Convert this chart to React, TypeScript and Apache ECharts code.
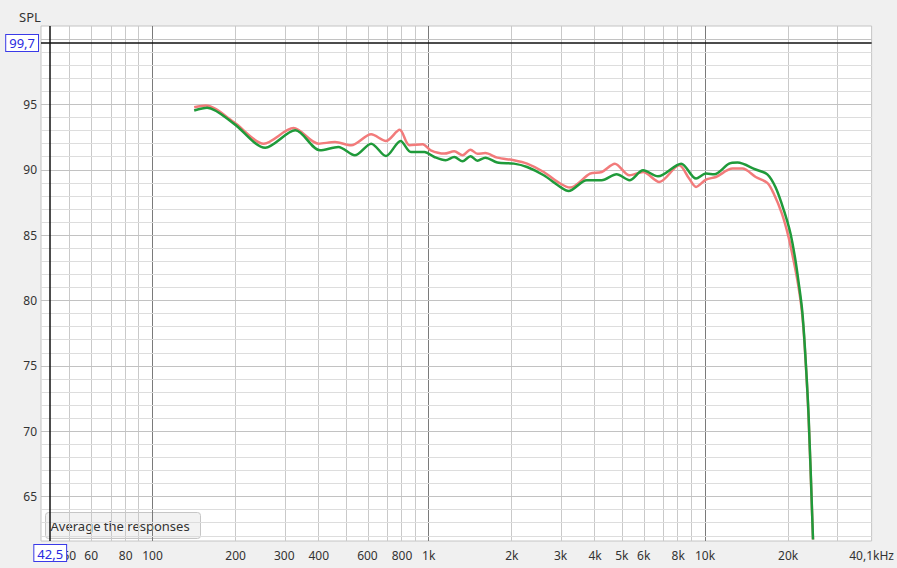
import React, { useEffect, useRef } from "react";
import * as echarts from "echarts";

// ---- data (frequency in Hz, SPL in dB) ----
const redFreq = [141.6, 156, 197, 253, 324, 399, 458, 524, 619, 700, 785, 852, 951, 1017, 1139, 1237, 1326, 1416, 1501, 1603, 1771, 2034, 2270, 2608, 2992, 3250, 3836, 4227, 4718, 5330, 5969, 6833, 8064, 8760, 9282, 10083, 10955, 12578, 13670, 15260, 16810, 17710, 18970, 20060, 20910, 21700, 22400, 22940, 23700, 24600];
const redSpl = [94.79, 94.92, 93.65, 92.0, 93.19, 92.0, 92.12, 91.87, 92.71, 92.2, 93.06, 91.87, 91.95, 91.49, 91.24, 91.41, 91.11, 91.54, 91.22, 91.28, 90.93, 90.73, 90.47, 89.83, 88.95, 88.64, 89.71, 89.83, 90.47, 89.58, 89.83, 89.07, 90.34, 89.33, 88.69, 89.25, 89.45, 90.09, 90.09, 89.45, 89.0, 88.2, 86.66, 84.87, 83.09, 81.3, 79.27, 76.6, 71.13, 61.72];

const greenFreq = [141.6, 157.7, 197, 256, 329, 404, 471, 540, 619, 700, 791, 862, 965, 1048, 1151, 1237, 1326, 1416, 1501, 1603, 1771, 2034, 2270, 2608, 2992, 3207, 3733, 4227, 4786, 5330, 5969, 6761, 8199, 9282, 10083, 10803, 12232, 13116, 15260, 16810, 18004, 19290, 20390, 21250, 21846, 22470, 22960, 23720, 24600];
const greenSpl = [94.54, 94.75, 93.53, 91.69, 93.02, 91.49, 91.74, 91.11, 92.0, 91.05, 92.2, 91.36, 91.36, 90.98, 90.73, 90.98, 90.65, 91.03, 90.7, 90.93, 90.55, 90.47, 90.21, 89.58, 88.69, 88.38, 89.2, 89.2, 89.66, 89.2, 89.96, 89.5, 90.47, 89.33, 89.71, 89.66, 90.47, 90.55, 90.02, 89.65, 88.66, 86.91, 85.13, 83.09, 81.31, 79.27, 76.6, 71.13, 61.72];

const xTickFreqs = [50, 60, 80, 100, 200, 300, 400, 600, 800, 1000, 2000, 3000, 4000, 5000, 6000, 8000, 10000, 20000, 40100];
const xTickLabels = ["50", "60", "80", "100", "200", "300", "400", "600", "800", "1k", "2k", "3k", "4k", "5k", "6k", "8k", "10k", "20k", "40,1kHz"];
const xGridFreqs = [50, 60, 70, 80, 90, 100, 200, 300, 400, 500, 600, 700, 800, 900, 1000, 2000, 3000, 4000, 5000, 6000, 7000, 8000, 9000, 10000, 20000, 30000];
const xDecades = [100, 1000, 10000];
const yTickValues = [65, 70, 75, 80, 85, 90, 95];
const yGridValues = [62, 63, 64, 65, 66, 67, 68, 69, 70, 71, 72, 73, 74, 75, 76, 77, 78, 79, 80, 81, 82, 83, 84, 85, 86, 87, 88, 89, 90, 91, 92, 93, 94, 95, 96, 97, 98, 99, 100];
const cursorFreq = 42.5;
const cursorSpl = 99.7;
const cursorFreqLabel = "42,5";
const cursorSplLabel = "99,7";
const xMinHz = 39.5;
const xMaxHz = 40100;
const yMin = 61.6;
const yMax = 101;

const FONT = "'Noto Sans', 'Open Sans', sans-serif";
const lg = (f: number) => Math.log10(f);

export default function App() {
  const ref = useRef<HTMLDivElement>(null);
  useEffect(() => {
    if (!ref.current) return;
    const chart = echarts.init(ref.current, null, { renderer: "svg" });

    const vLines = xGridFreqs.map((f) => ({
      xAxis: lg(f),
      lineStyle: {
        color: xDecades.includes(f) ? "#7a7a7a" : "#c9c9c9",
        width: 1,
        type: "solid",
      },
    }));
    const hLines = yGridValues.map((v) => ({
      yAxis: v,
      lineStyle: {
        color: v % 5 === 0 ? "#c2c2c2" : "#dddddd",
        width: 1,
        type: "solid",
      },
    }));

    const boxLabel = {
      show: true,
      color: "#2a2ae0",
      fontSize: 13,
      fontFamily: FONT,
      backgroundColor: "#ffffff",
      borderColor: "#3a3ae8",
      borderWidth: 1,
      padding: [2, 3, 1, 3],
    };

    const option: any = {
      animation: false,
      backgroundColor: "#f0f0f0",
      title: {
        text: "SPL",
        left: 14,
        top: 5,
        textStyle: { fontSize: 13, fontWeight: "normal", color: "#333", fontFamily: FONT },
      },
      grid: {
        left: 41,
        right: 21,
        top: 26,
        bottom: 27,
        show: true,
        backgroundColor: "#ffffff",
        borderColor: "#c4c4c4",
        borderWidth: 1,
      },
      xAxis: {
        type: "value",
        min: lg(xMinHz),
        max: lg(xMaxHz),
        splitLine: { show: false },
        axisLine: { show: false },
        axisTick: { show: false },
        axisLabel: {
          customValues: xTickFreqs.map(lg),
          margin: 8,
          color: "#333",
          fontSize: 12,
          fontFamily: FONT,
          formatter: (v: number) => {
            const i = xTickFreqs.findIndex((f) => Math.abs(lg(f) - v) < 1e-6);
            return i >= 0 ? xTickLabels[i] : "";
          },
        },
      },
      yAxis: {
        type: "value",
        min: yMin,
        max: yMax,
        splitLine: { show: false },
        axisLine: { show: false },
        axisTick: { show: false },
        axisLabel: {
          customValues: yTickValues,
          margin: 4,
          color: "#333",
          fontSize: 12,
          fontFamily: FONT,
        },
      },
      series: [
        {
          type: "line",
          z: 1,
          data: [[lg(1000), 80]],
          symbol: "none",
          lineStyle: { opacity: 0 },
          silent: true,
          markLine: {
            z: 1,
            silent: true,
            symbol: ["none", "none"],
            label: { show: false },
            data: [...vLines, ...hLines],
          },
        },
        {
          name: "red",
          type: "line",
          z: 3,
          data: redFreq.map((f, i) => [lg(f), redSpl[i]]),
          symbol: "none",
          smooth: 0.3,
          lineStyle: { color: "#f27b7b", width: 2.5 },
        },
        {
          name: "green",
          type: "line",
          z: 4,
          data: greenFreq.map((f, i) => [lg(f), greenSpl[i]]),
          symbol: "none",
          smooth: 0.3,
          lineStyle: { color: "#1f9a3a", width: 2.5 },
        },
        {
          type: "line",
          z: 6,
          data: [[lg(1000), 80]],
          symbol: "none",
          lineStyle: { opacity: 0 },
          silent: true,
          markLine: {
            z: 6,
            silent: true,
            symbol: ["none", "none"],
            data: [
              {
                yAxis: cursorSpl,
                lineStyle: { color: "#111", width: 1.5, type: "solid" },
                label: { ...boxLabel, position: "start", distance: 3, formatter: cursorSplLabel },
              },
              {
                xAxis: lg(cursorFreq),
                lineStyle: { color: "#111", width: 1.5, type: "solid" },
                label: { ...boxLabel, position: "start", distance: 4, formatter: cursorFreqLabel },
              },
            ],
          },
        },
      ],
      graphic: [
        {
          type: "group",
          left: 45,
          top: 512,
          z: 100,
          children: [
            {
              type: "rect",
              shape: { x: 0, y: 0, width: 155, height: 26, r: 3 },
              style: { fill: "#f2f2f2", stroke: "#c6c6c6", lineWidth: 1 },
            },
            {
              type: "text",
              x: 5,
              y: 13,
              style: {
                text: "Average the responses",
                fontSize: 13,
                fontFamily: FONT,
                fill: "#333",
                verticalAlign: "middle",
              },
            },
          ],
        },
      ],
    };
    chart.setOption(option);
    return () => chart.dispose();
  }, []);

  return (
    <div
      ref={ref}
      style={{ position: "fixed", left: 0, top: 0, width: 897, height: 568 }}
    />
  );
}
